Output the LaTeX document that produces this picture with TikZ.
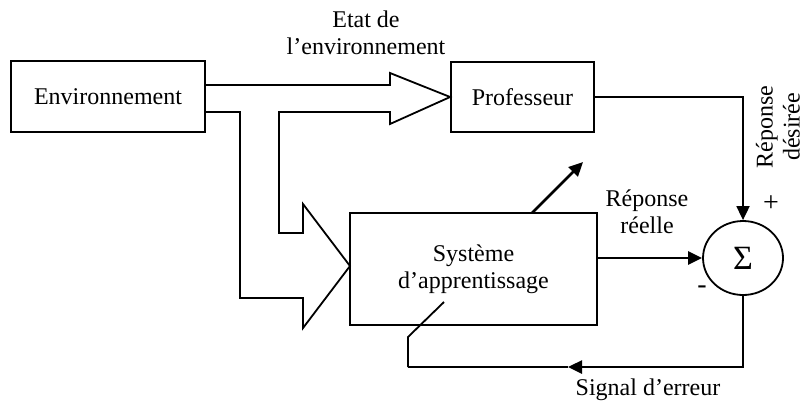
\documentclass[tikz,border=0pt]{standalone}
\usepackage{fontspec}
\setmainfont{Liberation Serif}
\usetikzlibrary{arrows.meta, shapes.geometric}

\begin{document}
\begin{tikzpicture}[x=0.5pt, y=-0.5pt, >={Triangle[length=7pt,width=6.5pt]},
    font=\fontsize{12}{13.5}\selectfont,
    bloc/.style={draw, line width=0.9pt, inner sep=0pt},
    signe/.style={font=\fontsize{14}{14}\selectfont},
    fleche/.style={->, line width=1.3pt}]
            \useasboundingbox (0,0) rectangle (806,403);

            % Blocs
            \node[bloc, minimum width=97pt, minimum height=35.5pt] (env) at (108,96.5) {Environnement};
            \node[bloc, minimum width=71.5pt, minimum height=35pt] (prof) at (522.5,97) {Professeur};
            \node[bloc, minimum width=123.5pt, minimum height=56pt, align=center] (sys) at (473.5,269) {Système\\d’apprentissage};
            \node[bloc, ellipse, minimum width=40pt, minimum height=37pt] (sum) at (743,258) {\fontsize{17}{17}\selectfont Σ};

            % Grosse flèche (état de l'environnement)
            \draw[line width=0.9pt, line join=miter]
                (205,85) -- (390,85) -- (390,73) -- (prof.west) -- (390,124) -- (390,112)
                -- (279,112) -- (279,233) -- (303,233) -- (303,204) -- (350,266)
                -- (303,328) -- (303,298) -- (240,298) -- (240,112) -- (205,112);
            \node[align=center] (etat) at (366,33) {Etat de\\l’environnement};

            % Réponse désirée
            \draw[fleche, line width=0.9pt] (prof.east) -| (sum.north);
            \node[rotate=90, align=center] (desiree) at (778,127) {Réponse\\désirée};
            \node[signe] (plus) at (771,204) {+};

            % Réponse réelle
            \draw[fleche] (sys.east |- sum.west) -- (sum.west);
            \node[align=center] (reelle) at (647,212) {Réponse\\réelle};
            \node[signe] (moins) at (702,290) {-};

            % Ajustement du système
            \coordinate (ajust) at (583,162);
            \draw[fleche] (532,213) -- (ajust);

            % Signal d'erreur
            \coordinate (err) at (568,367);
            \coordinate (retour) at (408,367);
            \draw[fleche] (sum.south) |- (err);
            \draw[line width=1.3pt] (err) -- (retour);
            \draw[line width=0.9pt] (retour) -- (408,337) -- (444,302);
            \node (signal) at (648,390) {Signal d’erreur};
        \end{tikzpicture}
\end{document}
